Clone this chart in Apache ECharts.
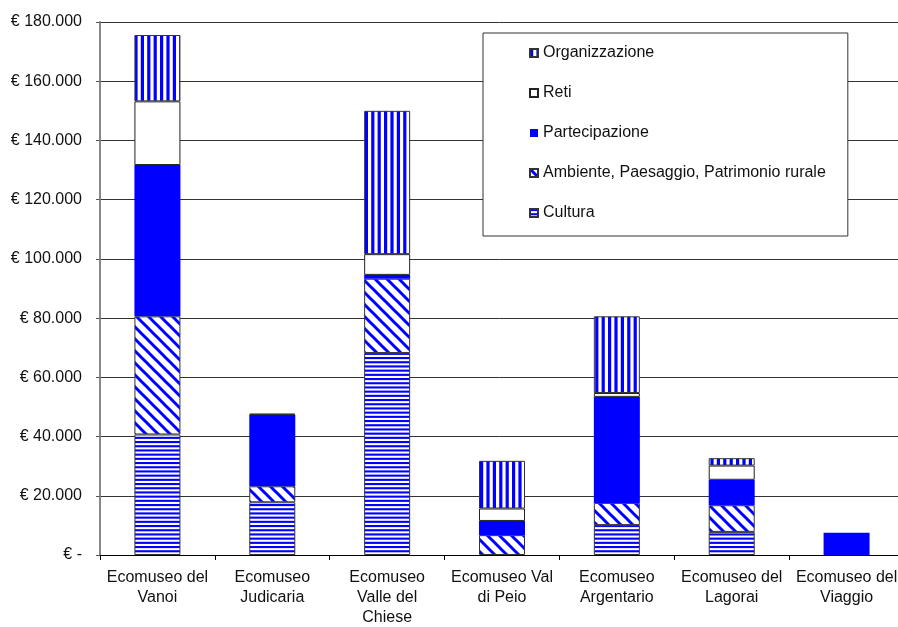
<!DOCTYPE html>
<html>
<head>
<meta charset="utf-8">
<script src="https://cdn.jsdelivr.net/npm/echarts@6/dist/echarts.min.js"></script>
<style>
  html, body { margin: 0; padding: 0; background: #fff; }
  #main { width: 898px; height: 627px; }
</style>
</head>
<body>
<div id="main"></div>
<script>
    var BLUE = '#0000ff',
        FONT = '"Liberation Sans", Arial, sans-serif'

    // dati
    const categories = [
        'Ecomuseo del\nVanoi',
        'Ecomuseo\nJudicaria',
        'Ecomuseo\nValle del\nChiese',
        'Ecomuseo Val\ndi Peio',
        'Ecomuseo\nArgentario',
        'Ecomuseo del\nLagorai',
        'Ecomuseo del\nViaggio'
    ];
    const cultura = [40700, 17800, 68200, 0, 10100, 7800, 0];
    const ambiente = [39900, 5400, 25100, 6700, 7500, 9000, 0];
    const partecipazione = [51100, 24200, 1300, 4800, 35800, 8600, 7500];
    const reti = [21500, 300, 7000, 4200, 1300, 4800, 0];
    const organizzazione = [22400, 0, 48400, 16100, 25900, 2500, 0];
    const yTicks = { min: 0, max: 180000, step: 20000 };

    //trame
    function tile(w, h, draw) {
        let c = document.createElement('canvas')
        c.width = w
        c.height = h
        let g = c.getContext('2d')
        g.fillStyle = '#fff'
        g.fillRect(0, 0, w, h)
        g.fillStyle = BLUE
        g.strokeStyle = BLUE
        draw(g, w, h)
        return { image: c, repeat: 'repeat' }
    }
    const vertical = tile(32, 2, function (g, w, h) {
        for (let i = 0; i < 5; i++) g.fillRect(i * 6.4, 0, 3.2, h)
    })
    const horizontal = tile(2, 21, function (g, w, h) {
        for (let i = 0; i < 5; i++) g.fillRect(0, i * 4.2, w, 2.1)
    })
    const diagonal = tile(12, 12, function (g, w, h) {
        g.lineWidth = 3
        for (let k = -1; k <= 1; k++) {
            g.beginPath()
            g.moveTo(k * w - 2, -2)
            g.lineTo(k * w + w + 2, h + 2)
            g.stroke()
        }
    })

    function euro(v) {
        if (v === 0) return '€ -'
        return '€ ' + String(v).replace(/\B(?=(\d{3})+(?!\d))/g, '.')
    }
    function clean(arr) {
        return arr.map(function (v) { return v === 0 ? '-' : v })
    }
    function bar(name, values, style) {
        return {
            name: name,
            type: 'bar',
            stack: 'tot',
            barWidth: 46,
            data: clean(values),
            itemStyle: style,
            emphasis: { disabled: true }
        }
    }

    var myChart = echarts.init(document.getElementById('main'))
    var option = {
        animation: false,
        backgroundColor: '#fff',
        textStyle: { fontFamily: FONT },
        // l'area del grafico esce un po' a destra, come nell'originale
        grid: {
            left: 100, width: 804, top: 22, bottom: 72,
            containLabel: false,
            outerBoundsMode: 'none'
        },
        legend: {
            orient: 'vertical',
            left: 483,
            top: 33,
            padding: [12, 22, 15, 46],
            itemGap: 24,
            itemWidth: 8,
            itemHeight: 8,
            backgroundColor: '#fff',
            borderColor: '#333',
            borderWidth: 1,
            borderRadius: 0,
            selectedMode: false,
            textStyle: { fontFamily: FONT, fontSize: 16, lineHeight: 16, color: '#111' },
            data: [
                { name: 'Organizzazione', icon: 'rect' },
                { name: 'Reti', icon: 'rect' },
                { name: 'Partecipazione', icon: 'rect' },
                { name: 'Ambiente, Paesaggio, Patrimonio rurale', icon: 'rect' },
                { name: 'Cultura', icon: 'rect' }
            ]
        },
        xAxis: {
            type: 'category',
            data: categories,
            axisLine: { lineStyle: { color: '#000', width: 1 } },
            axisTick: { show: true, length: 5, lineStyle: { color: '#000' } },
            axisLabel: {
                interval: 0,
                margin: 13,
                fontFamily: FONT,
                fontSize: 16,
                lineHeight: 20,
                color: '#111'
            }
        },
        yAxis: {
            type: 'value',
            min: yTicks.min,
            max: yTicks.max,
            interval: yTicks.step,
            axisLine: { show: true, lineStyle: { color: '#888', width: 2 } },
            axisTick: { show: true, length: 4, lineStyle: { color: '#555' } },
            splitLine: { lineStyle: { color: '#333', width: 1 } },
            axisLabel: {
                margin: 18,
                fontFamily: FONT,
                fontSize: 16,
                color: '#111',
                formatter: euro
            }
        },
        series: [
            bar('Cultura', cultura, { color: horizontal, borderColor: '#333', borderWidth: 1 }),
            bar('Ambiente, Paesaggio, Patrimonio rurale', ambiente, { color: diagonal, borderColor: '#333', borderWidth: 1 }),
            bar('Partecipazione', partecipazione, { color: BLUE, borderWidth: 0 }),
            bar('Reti', reti, { color: '#fff', borderColor: '#222', borderWidth: 1 }),
            bar('Organizzazione', organizzazione, { color: vertical, borderColor: '#333', borderWidth: 1 })
        ]
    }
    myChart.setOption(option)
</script>
</body>
</html>
